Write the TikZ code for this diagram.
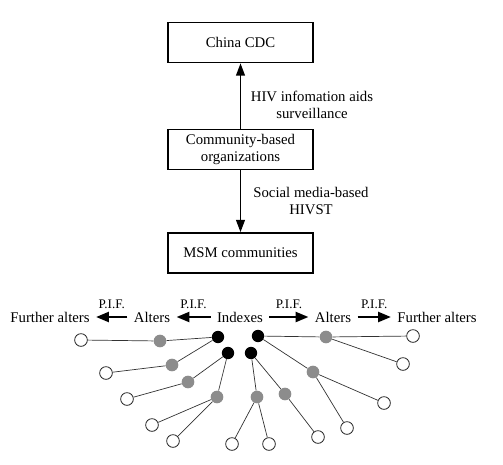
\documentclass[tikz,border=0pt]{standalone}
\usepackage{fontspec}
\setmainfont{Liberation Serif}
\usepackage{tikz}
\usetikzlibrary{arrows.meta,positioning,calc}

\begin{document}
\begin{tikzpicture}[
    x=0.03cm, y=-0.03cm,
    box/.style={draw, line width=1.4pt, minimum width=4.35cm, minimum height=1.2cm, align=center, font=\fontsize{12.6}{14.5}\selectfont},
    note/.style={align=center, font=\fontsize{12.6}{14.5}\selectfont},
    flow/.style={line width=1.4pt, -{Triangle[length=10.5pt,width=7.5pt]}},
    pif/.style={line width=2pt, -{Triangle[length=11pt,width=8.5pt]}, shorten <=2pt, shorten >=2pt},
    piflabel/.style={font=\fontsize{11.2}{13}\selectfont, above=3pt},
    index/.style={circle, fill=black, minimum size=0.37cm, inner sep=0pt},
    alter/.style={circle, fill=black!45, minimum size=0.38cm, inner sep=0pt},
    further/.style={circle, draw=black!85, fill=white, line width=0.7pt, minimum size=0.38cm, inner sep=0pt},
    tie/.style={draw=black!80, line width=0.6pt}
]
\useasboundingbox (0,0) rectangle (503,464);

% organisations
\node[box] (cdc) at (240.5,42.5) {China CDC};
\node[box] (cbo) at (240.5,149.5) {Community-based\\organizations};
\node[box] (msm) at (240.5,253) {MSM communities};
\draw[flow] (cbo) -- (cdc);
\draw[flow] (cbo) -- (msm);
\node[note] (hiv) at (312,105) {HIV infomation aids\\surveillance};
\node[note] (smb) at (311,201) {Social media-based\\HIVST};

% peer-driven chain
\node[note] (idx) at (240,317) {Indexes};
\node[note] (altl) at (152,317) {Alters};
\node[note] (furl) at (50,317) {Further alters};
\node[note] (altr) at (333,317) {Alters};
\node[note] (furr) at (437,317) {Further alters};
\draw[pif] (idx) -- node[piflabel] {P.I.F.} (altl);
\draw[pif] (altl) -- node[piflabel] {P.I.F.} (furl);
\draw[pif] (idx) -- node[piflabel] {P.I.F.} (altr);
\draw[pif] (altr) -- node[piflabel] {P.I.F.} (furr);

% network
\foreach \n/\x/\y in {b1/218/337, b2/228/353, b3/251/353, b4/258/336}
    \node[index] (\n) at (\x,\y) {};
\foreach \n/\x/\y in {g1/160/341, g2/172/365, g3/188/382, g4/217/397,
                      g5/257/397, g6/285/394, g7/313/372, g8/326/337}
    \node[alter] (\n) at (\x,\y) {};
\foreach \n/\x/\y in {w1/81/340, w2/106/373, w3/127/399, w4/152/425, w5/173/441, w6/232/444,
                      w7/269/444, w8/318/437, w9/347/428, w10/384/403, w11/403/364, w12/413/336}
    \node[further] (\n) at (\x,\y) {};
\foreach \a/\b in {b1/g1, g1/w1, b1/g2, g2/w2, b2/g3, g3/w3, b2/g4, g4/w4, g4/w5,
                   b3/g5, g5/w6, g5/w7, b3/g6, g6/w8, b4/g7, g7/w9, g7/w10,
                   b4/g8, g8/w12, g8/w11}
    \draw[tie] (\a) -- (\b);
\end{tikzpicture}
\end{document}
